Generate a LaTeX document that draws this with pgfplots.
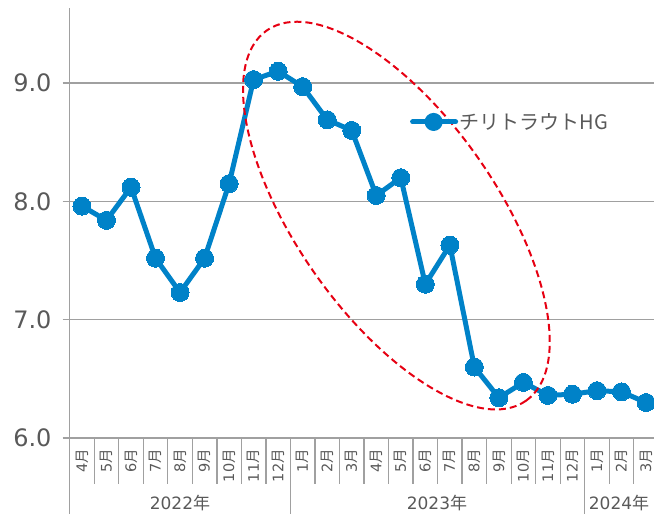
\documentclass[border=0pt]{standalone}
\usepackage{pgfplots}
\pgfplotsset{compat=1.18}
\usepackage{fontspec}
\setmainfont{Noto Sans CJK JP}
\newfontfamily\dv{DejaVu Sans}
\newfontfamily\jp{Noto Sans CJK JP}
\usetikzlibrary{shapes.geometric}
\definecolor{lineblue}{RGB}{0,130,200}
\definecolor{txtgray}{RGB}{89,89,89}
\definecolor{gridgray}{RGB}{160,160,160}
\definecolor{ellred}{RGB}{230,0,18}
\newcommand{\mo}[1]{{\dv #1}{\jp 月}}
\begin{document}
\begin{tikzpicture}[x=1bp,y=1bp]
\begin{axis}[
  at={(0,0)}, anchor=south west,
  scale only axis,
  width=588.6bp, height=430bp,
  xmin=-0.5, xmax=23.5,
  ymin=6, ymax=9.635,
  clip=false,
  axis lines=left,
  axis line style={draw=gridgray, line width=1.3bp, -},
  ytick={6,7,8,9},
  yticklabel style={/pgf/number format/.cd, fixed, fixed zerofill, precision=1, /tikz/.cd, font=\dv\fontsize{24bp}{28bp}\selectfont, text=txtgray, inner sep=0pt, xshift=-11bp},
  /pgf/number format/assume math mode=true,
  ymajorgrids,
  grid style={draw=gridgray, line width=1.3bp},
  tick align=outside,
  major tick length=7bp,
  y tick style={draw=gridgray, line width=1.3bp},
  x tick style={draw=none},
  xtick={0,...,23},
  xticklabels={\mo{4},\mo{5},\mo{6},\mo{7},\mo{8},\mo{9},\mo{10},\mo{11},\mo{12},\mo{1},\mo{2},\mo{3},\mo{4},\mo{5},\mo{6},\mo{7},\mo{8},\mo{9},\mo{10},\mo{11},\mo{12},\mo{1},\mo{2},\mo{3}},
  xticklabel shift=4bp,
  x tick label style={rotate=90, anchor=east, text=txtgray, inner sep=0pt, font=\fontsize{14.5bp}{16bp}\selectfont},
  legend style={at={(0.578,0.735)}, anchor=west, draw=none, fill=none, inner sep=0pt,
    font=\jp\fontsize{20bp}{23bp}\selectfont, text=txtgray, nodes={inner sep=1.5bp}},
  legend cell align=left,
  legend image code/.code={%
    \draw[lineblue, line width=5bp, line cap=round] (0bp,0bp) -- (43bp,0bp);
    \fill[lineblue] (21bp,0bp) circle (6.5bp);},
]
\addplot[lineblue, line width=5bp, line join=round, mark=*, mark size=9bp,
  mark options={fill=lineblue, draw=lineblue, line width=0pt}]
coordinates {
(0,7.96) (1,7.84) (2,8.12) (3,7.52) (4,7.23) (5,7.52) (6,8.15) (7,9.03)
(8,9.10) (9,8.97) (10,8.69) (11,8.60) (12,8.05) (13,8.20) (14,7.30) (15,7.63)
(16,6.60) (17,6.34) (18,6.47) (19,6.36) (20,6.37) (21,6.40) (22,6.39) (23,6.30)
};
\addlegendentry{チリトラウトHG}
\node[draw=ellred, ellipse, minimum width=452bp, minimum height=200bp, rotate=-55,
  line width=2bp, dash pattern=on 7bp off 4bp, inner sep=0pt] at (axis cs:12.82,7.88) {};
\end{axis}
\foreach \k in {1,...,23} \draw[gridgray, line width=1.3bp] (\k*24.525,0) -- (\k*24.525,-46);
\draw[gridgray, line width=1.3bp] (0,0) -- (0,-76);
\draw[gridgray, line width=1.3bp] (9*24.525,0) -- (9*24.525,-76);
\draw[gridgray, line width=1.3bp] (21*24.525,0) -- (21*24.525,-76);
\node[font=\fontsize{17bp}{20bp}\selectfont, text=txtgray] at (110.3,-65) {{\dv 2022}年};
\node[font=\fontsize{17bp}{20bp}\selectfont, text=txtgray] at (367.3,-65) {{\dv 2023}年};
\node[font=\fontsize{17bp}{20bp}\selectfont, text=txtgray] at (549.3,-65) {{\dv 2024}年};
\pgfresetboundingbox
\useasboundingbox (-69.7,-76) rectangle (584.3,438);
\end{tikzpicture}
\end{document}
